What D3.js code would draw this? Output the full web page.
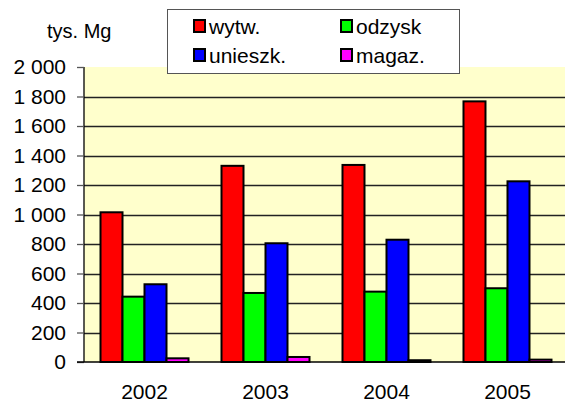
<!DOCTYPE html>
<html>
<head>
<meta charset="utf-8">
<script src="https://cdn.jsdelivr.net/npm/d3@7"></script>
<style>
  body { margin: 0; background: #fff; }
  svg { display: block; font-family: "Liberation Sans", Arial, sans-serif; }
</style>
</head>
<body>
<svg id="chart"></svg>
<script>
// Data (thousand Mg)
const years = ['2002', '2003', '2004', '2005'];
const seriesNames = ['wytw.', 'odzysk', 'unieszk.', 'magaz.'];
const wytw = [1015, 1330, 1336, 1767];
const odzysk = [443, 468, 477, 500];
const unieszk = [527, 805, 829, 1225];
const magaz = [25, 34, 12, 16];
const yTicks = [0, 200, 400, 600, 800, 1000, 1200, 1400, 1600, 1800, 2000];
const colors = ['#ff0000', '#00ff00', '#0000ff', '#ff00ff'];

const values = [wytw, odzysk, unieszk, magaz];

const width = 565;
const height = 405;
const plot = { left: 84, right: 568, top: 67, bottom: 362 };

const svg = d3.select('#chart')
  .attr('width', width)
  .attr('height', height);

// Scales
const x0 = d3.scaleBand()
  .domain(years)
  .range([plot.left, plot.right])
  .paddingInner(0.2727)
  .paddingOuter(0.1364);

const x1 = d3.scaleBand()
  .domain(seriesNames)
  .range([0, x0.bandwidth()]);

const y = d3.scaleLinear()
  .domain([0, 2000])
  .range([plot.bottom, plot.top]);

const fmt = d3.formatLocale({ decimal: ',', thousands: ' ', grouping: [3], currency: ['', ''] }).format(',d');

// Plot background
svg.append('rect')
  .attr('x', plot.left)
  .attr('y', plot.top)
  .attr('width', width - plot.left)
  .attr('height', plot.bottom - plot.top)
  .attr('fill', '#ffffcc');

// Gridlines
svg.append('g')
  .selectAll('line')
  .data(yTicks.filter(d => d > 0 && d < 2000))
  .enter()
  .append('line')
  .attr('x1', plot.left)
  .attr('x2', width)
  .attr('y1', d => Math.round(y(d)) + 0.5)
  .attr('y2', d => Math.round(y(d)) + 0.5)
  .attr('stroke', '#222')
  .attr('stroke-width', 1.3);

// Y axis
const yAxis = d3.axisLeft(y)
  .tickValues(yTicks)
  .tickFormat(fmt)
  .tickSize(7)
  .tickPadding(11);

svg.append('g')
  .attr('id', 'y-axis')
  .attr('transform', `translate(${plot.left}, 0)`)
  .call(yAxis)
  .call(g => g.select('.domain').attr('stroke', '#000').attr('stroke-width', 1.3).attr('d', `M0,${plot.top}V${plot.bottom}`))
  .call(g => g.selectAll('.tick line').attr('stroke', '#555').attr('stroke-width', 1.3))
  .call(g => g.selectAll('.tick text').attr('font-size', 21).attr('fill', '#000').attr('font-family', '"Liberation Sans", Arial, sans-serif'));

// X axis
const xAxis = d3.axisBottom(x0)
  .tickSize(0)
  .tickPadding(22);

svg.append('g')
  .attr('id', 'x-axis')
  .attr('transform', `translate(0, ${plot.bottom})`)
  .call(xAxis)
  .call(g => g.select('.domain').attr('stroke', '#000').attr('stroke-width', 1.3).attr('d', `M${plot.left - 7},0H${width}`))
  .call(g => g.selectAll('.tick text').attr('font-size', 21).attr('fill', '#000').attr('font-family', '"Liberation Sans", Arial, sans-serif'));

// Bars
const groups = svg.append('g')
  .selectAll('g')
  .data(years)
  .enter()
  .append('g')
  .attr('transform', d => `translate(${x0(d)}, 0)`);

groups.selectAll('rect')
  .data((d, i) => seriesNames.map((s, j) => ({ series: s, value: values[j][i], color: colors[j] })))
  .enter()
  .append('rect')
  .attr('x', d => x1(d.series))
  .attr('y', d => y(d.value))
  .attr('width', x1.bandwidth())
  .attr('height', d => y(0) - y(d.value))
  .attr('fill', d => d.color)
  .attr('stroke', '#000')
  .attr('stroke-width', 2);

// Unit label
svg.append('text')
  .attr('x', 47)
  .attr('y', 38)
  .attr('font-size', 20)
  .text('tys. Mg');

// Legend
const legend = svg.append('g');
legend.append('rect')
  .attr('x', 167.5)
  .attr('y', 9.5)
  .attr('width', 292)
  .attr('height', 64)
  .attr('fill', '#fff')
  .attr('stroke', '#555')
  .attr('stroke-width', 1);

const legendPos = [[193, 19], [340, 19], [193, 48], [340, 48]];
seriesNames.forEach((s, j) => {
  const [lx, ly] = legendPos[j];
  legend.append('rect')
    .attr('x', lx + 1)
    .attr('y', ly + 1)
    .attr('width', 11)
    .attr('height', 12)
    .attr('fill', colors[j])
    .attr('stroke', '#000')
    .attr('stroke-width', 2);
  legend.append('text')
    .attr('x', lx + 16)
    .attr('y', ly + 15)
    .attr('font-size', 21)
    .text(s);
});
</script>
</body>
</html>
